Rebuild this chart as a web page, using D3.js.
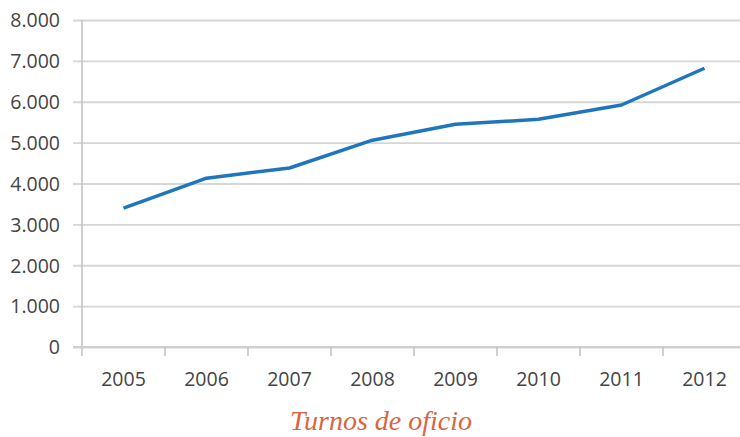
<!DOCTYPE html>
<html>
<head>
<meta charset="utf-8">
<script src="https://cdn.jsdelivr.net/npm/d3@7"></script>
<style>
  body { margin: 0; background: #fff; }
  svg { display: block; }
</style>
</head>
<body>
<div id="chart"></div>
<script>
// data
var years = ['2005', '2006', '2007', '2008', '2009', '2010', '2011', '2012']
var turnos = [3400, 4130, 4380, 5060, 5450, 5570, 5920, 6820]
var yTicks = [0, 1000, 2000, 3000, 4000, 5000, 6000, 7000, 8000]
var title = 'Turnos de oficio'

var width = 740, height = 437
var plotLeft = 82, plotRight = 746, plotTop = 20, plotBottom = 347

var svg = d3.select('#chart')
  .append('svg')
  .attr('width', width)
  .attr('height', height)

var x = d3.scaleBand()
  .domain(years)
  .range([plotLeft, plotRight])
  .padding(0)

var y = d3.scaleLinear()
  .domain([0, 8000])
  .range([plotBottom, plotTop])

var es = d3.formatLocale({decimal: ',', thousands: '.', grouping: [3], currency: ['', ' €']})
var fmt = es.format(',')

// horizontal gridlines with left ticks
var yAxis = d3.axisLeft(y)
  .tickValues(yTicks)
  .tickSize(-(plotRight - plotLeft + 9))
  .tickFormat(fmt)

var gy = svg.append('g')
  .attr('transform', 'translate(' + (plotLeft - 9) + ',0)')
  .call(yAxis)
gy.select('.domain').remove()
gy.selectAll('.tick line')
  .attr('stroke', '#d6d6d6')
  .attr('stroke-width', 1.8)
gy.selectAll('.tick text')
  .attr('x', -13)
  .attr('dy', '0.35em')
  .style('font-family', '"Open Sans", sans-serif')
  .style('font-size', '19.5px')
  .attr('fill', '#444')

// vertical axis line
svg.append('line')
  .attr('x1', plotLeft).attr('x2', plotLeft)
  .attr('y1', plotTop).attr('y2', plotBottom + 9)
  .attr('stroke', '#c4c4c4')
  .attr('stroke-width', 1.6)

// x axis: base line, boundary ticks, centred labels
svg.append('line')
  .attr('x1', plotLeft - 9).attr('x2', width)
  .attr('y1', plotBottom).attr('y2', plotBottom)
  .attr('stroke', '#cfcfcf')
  .attr('stroke-width', 1.8)

svg.selectAll('.xtick')
  .data(years.slice(1))
  .enter().append('line')
  .attr('class', 'xtick')
  .attr('x1', function(d) { return x(d) })
  .attr('x2', function(d) { return x(d) })
  .attr('y1', plotBottom)
  .attr('y2', plotBottom + 9)
  .attr('stroke', '#c4c4c4')
  .attr('stroke-width', 1.6)

svg.selectAll('.xlabel')
  .data(years)
  .enter().append('text')
  .attr('class', 'xlabel')
  .attr('x', function(d) { return x(d) + x.bandwidth() / 2 })
  .attr('y', 386)
  .attr('text-anchor', 'middle')
  .style('font-family', '"Open Sans", sans-serif')
  .style('font-size', '19.5px')
  .attr('fill', '#444')
  .text(function(d) { return d })

// the series
var line = d3.line()
  .x(function(d, i) { return x(years[i]) + x.bandwidth() / 2 })
  .y(function(d) { return y(d) })

svg.append('path')
  .datum(turnos)
  .attr('d', line)
  .attr('fill', 'none')
  .attr('stroke', '#1f75be')
  .attr('stroke-width', 3.5)
  .attr('stroke-linejoin', 'round')

// title below
svg.append('text')
  .attr('x', 381)
  .attr('y', 430)
  .attr('text-anchor', 'middle')
  .style('font-family', '"Liberation Serif", serif')
  .style('font-style', 'italic')
  .style('font-size', '28px')
  .attr('fill', '#db6441')
  .text(title)
</script>
</body>
</html>
